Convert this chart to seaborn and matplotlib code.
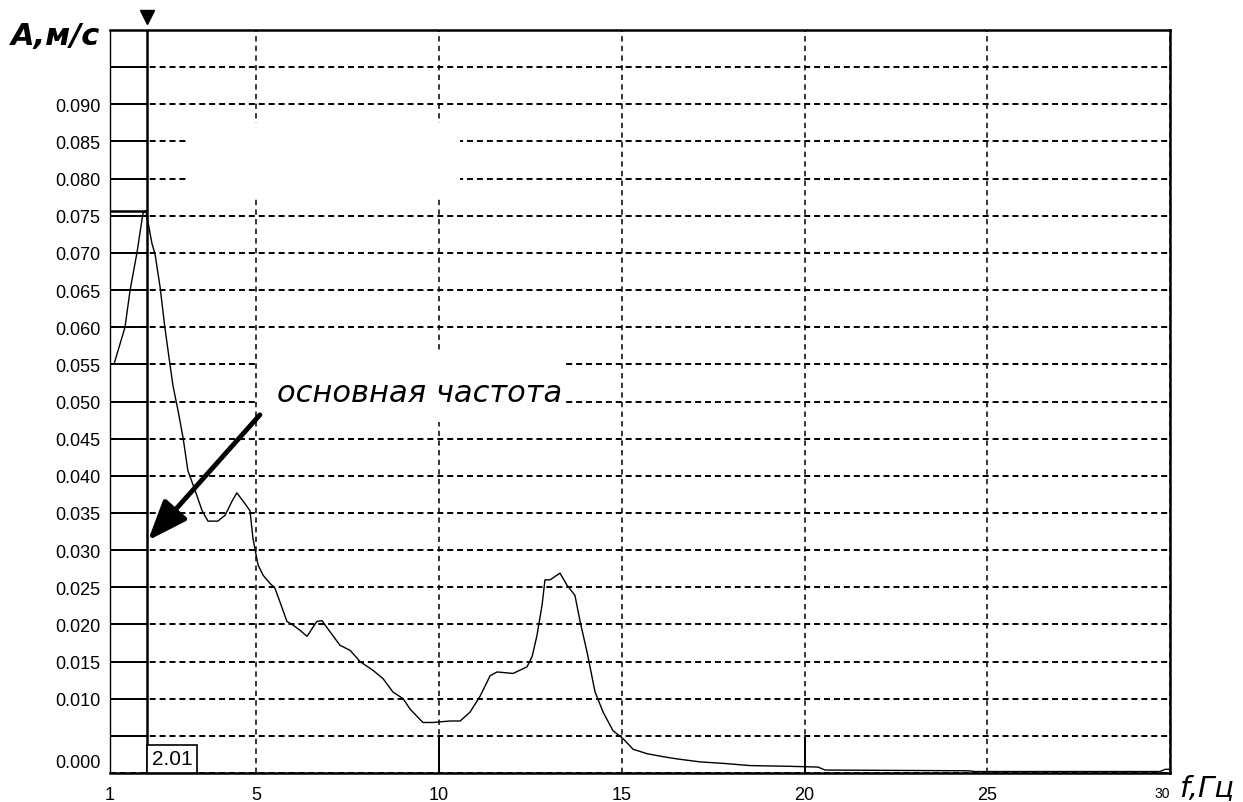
import numpy as np
import seaborn as sns
import matplotlib.pyplot as plt
from matplotlib.patches import Rectangle
from matplotlib.transforms import ScaledTranslation

# spectrum
freq = [1.12, 1.41, 1.55, 1.74, 1.90, 1.98, 2.15, 2.23, 2.37, 2.50, 2.64, 2.72,
        2.86, 3.00, 3.13, 3.33, 3.52, 3.68, 3.95, 4.15, 4.34, 4.47, 4.64, 4.83,
        4.91, 5.05, 5.19, 5.38, 5.51, 5.71, 5.84, 6.01, 6.20, 6.39, 6.55, 6.66,
        6.80, 7.02, 7.29, 7.57, 7.84, 8.20, 8.47, 8.74, 9.02, 9.21, 9.56, 9.84,
        10.30, 10.58, 10.85, 11.12, 11.40, 11.59, 12.03, 12.41, 12.55, 12.68,
        12.82, 12.90, 13.04, 13.31, 13.50, 13.72, 13.86, 14.05, 14.27, 14.49,
        14.76, 15.04, 15.31, 15.69, 16.13, 16.51, 17.14, 17.77, 18.51, 19.60,
        20.37, 20.56, 24.47, 24.67, 29.73, 29.87, 30.00]
amp = [0.0552, 0.0600, 0.0650, 0.0701, 0.0753, 0.0757, 0.0712, 0.0699, 0.0654,
       0.0600, 0.0550, 0.0522, 0.0488, 0.0451, 0.0407, 0.0380, 0.0353, 0.0339,
       0.0339, 0.0347, 0.0366, 0.0377, 0.0366, 0.0353, 0.0316, 0.0280, 0.0266,
       0.0255, 0.0249, 0.0222, 0.0204, 0.0199, 0.0192, 0.0184, 0.0196, 0.0204,
       0.0205, 0.0190, 0.0172, 0.0165, 0.0150, 0.0138, 0.0127, 0.0109, 0.0100,
       0.0086, 0.0068, 0.0068, 0.0070, 0.0070, 0.0082, 0.0103, 0.0131, 0.0136,
       0.0134, 0.0143, 0.0157, 0.0185, 0.0226, 0.0260, 0.0260, 0.0269, 0.0253,
       0.0239, 0.0204, 0.0163, 0.0109, 0.0082, 0.0057, 0.0046, 0.0032, 0.0026,
       0.0022, 0.0019, 0.0015, 0.0013, 0.0010, 0.0009, 0.0008, 0.0004, 0.0003,
       0.0002, 0.0002, 0.0005, 0.0005]

x_ticks = [1, 5, 10, 15, 20, 25, 30]
y_grid = [0.005, 0.010, 0.015, 0.020, 0.025, 0.030, 0.035, 0.040, 0.045, 0.050,
          0.055, 0.060, 0.065, 0.070, 0.075, 0.080, 0.085, 0.090, 0.095]
y_ticks = [0.0] + y_grid
y_labels = ["0.000", ""] + ["%.3f" % v for v in y_grid[1:-1]] + [""]

cursor = 2.01
peak = 0.0757

sns.set_style("white")
plt.rcParams['font.family'] = ['Liberation Sans', 'DejaVu Sans']

fig, ax = plt.subplots(figsize=(12.43, 8.03), dpi=100)
fig.subplots_adjust(left=0.0885, right=0.9413, bottom=0.0361, top=0.9614)

sns.lineplot(x=freq, y=amp, color="black", linewidth=1.0, ax=ax, zorder=3)

ax.set_xlim(1, 30)
ax.set_ylim(0, 0.100)
ax.set_xticks(x_ticks)
ax.set_yticks(y_ticks)
ax.set_yticklabels(y_labels)
ax.tick_params(axis="both", length=0, labelsize=13, pad=7, colors="black")
ax.tick_params(axis="x", pad=9)
lbl30 = ax.get_xticklabels()[-1]
lbl30.set_fontsize(10)
lbl30.set_horizontalalignment("right")
lbl0 = ax.get_yticklabels()[0]
lbl0.set_transform(lbl0.get_transform() + ScaledTranslation(0, 9 / 72, fig.dpi_scale_trans))

# dashed grid
ax.set_axisbelow(True)
ax.yaxis.grid(True, color="black", linewidth=1.4, linestyle=(0, (3.1, 2.0)))
ax.xaxis.grid(True, color="black", linewidth=1.1, linestyle=(0, (3.5, 2.8)))

for side in ["top", "right", "bottom"]:
    ax.spines[side].set_linewidth(1.8)
ax.spines["left"].set_linewidth(1.0)
for sp in ax.spines.values():
    sp.set_color("black")

# solid bits left of the cursor and at the bottom
ax.hlines(y_grid, 1, cursor, color="black", linewidth=1.4, zorder=2)
ax.hlines(peak, 1, cursor, color="black", linewidth=1.8, zorder=2)
ax.vlines([10, 20], 0, 0.005, color="black", linewidth=1.4, zorder=2)

# erased patches of the scan
ax.add_patch(Rectangle((3.1, 0.0777), 7.48, 0.0098, facecolor="white",
                       edgecolor="none", zorder=1))
ax.add_patch(Rectangle((5.05, 0.0472), 8.43, 0.0093, facecolor="white",
                       edgecolor="none", zorder=1))

# cursor
ax.axvline(cursor, color="black", linewidth=1.8, zorder=4)
ax.plot([cursor], [0.1018], marker="v", color="black", markersize=10,
        clip_on=False, zorder=5)
ax.annotate("2.01", xy=(cursor, 0), xytext=(3.5, 3.5), textcoords="offset points",
            ha="left", va="bottom", fontsize=15, color="black", zorder=5,
            bbox=dict(boxstyle="square,pad=0.22", facecolor="white",
                      edgecolor="black", linewidth=1.2))

# annotation
ax.annotate("", xy=(2.04, 0.0313), xytext=(5.10, 0.0482),
            arrowprops=dict(arrowstyle="-|>,head_length=0.9,head_width=0.35",
                            color="black", linewidth=3.5, mutation_scale=27,
                            shrinkA=0, shrinkB=0), zorder=5)
ax.text(5.57, 0.0501, "основная частота", fontsize=22, style="italic",
        color="black", family=["DejaVu Sans"], ha="left", va="baseline", zorder=5)

fig.text(0.045, 0.954, "А,м/с", fontsize=22, style="italic", weight="bold",
         color="black", family=["DejaVu Sans"], ha="center", va="center")
fig.text(0.971, 0.018, "f,Гц", fontsize=21, style="italic", color="black",
         family=["DejaVu Sans"], ha="center", va="center")

fig.savefig("out.png", dpi=100)
